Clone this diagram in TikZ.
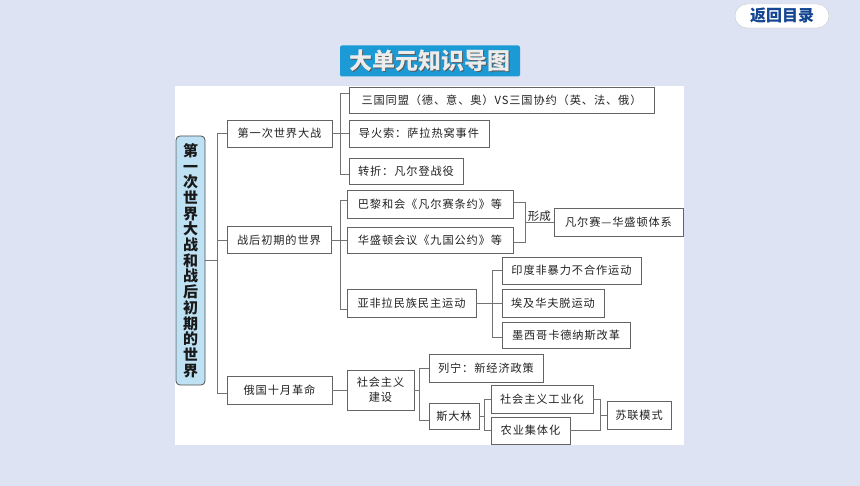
\documentclass[tikz,border=0pt]{standalone}
\usepackage{fontspec}
\newfontfamily\cjk[LetterSpace=8]{Noto Sans CJK SC}
\newfontfamily\cjkplain{Noto Sans CJK SC}
\usetikzlibrary{calc}
\definecolor{bgc}{RGB}{221,227,243}
\definecolor{titc}{RGB}{27,154,214}
\definecolor{lbfill}{RGB}{190,226,244}
\definecolor{boxc}{RGB}{100,100,100}
\definecolor{linec}{RGB}{115,115,115}
\definecolor{txtc}{RGB}{34,34,34}
\definecolor{btnc}{RGB}{20,70,145}
\begin{document}
\begin{tikzpicture}[x=1pt,y=-1pt,
  bx/.style={draw=boxc, line width=0.8pt, fill=white, inner sep=0pt,
    minimum height=27pt, font=\cjk\fontsize{11.2}{12}\selectfont, text=txtc},
  ln/.style={draw=linec, line width=0.8pt}]
\useasboundingbox (0,0) rectangle (860,486);
\fill[bgc] (0,0) rectangle (860,486);
% button
\node[draw=gray!45, fill=white, rounded corners=12pt, minimum width=94pt,
  minimum height=24pt, inner sep=0pt, text=btnc,
  font=\cjkplain\bfseries\fontsize{16}{16}\selectfont] (btn) at (782,16) {返回目录};
% title
\node[fill=titc, rounded corners=2pt, minimum width=180pt, minimum height=31pt] (title) at (430,61) {};
\node[text=black!65, font=\cjkplain\bfseries\fontsize{23}{23}\selectfont] (titsh) at (431.2,62.2) {大单元知识导图};
\node[text=white!85!gray, font=\cjkplain\bfseries\fontsize{23}{23}\selectfont] (tittx) at (title.center) {大单元知识导图};
% panel
\fill[white] (175,86) rectangle (684,445);
% left box
\node[draw=boxc!80!black, line width=0.8pt, fill=lbfill, rounded corners=4pt, minimum width=29pt,
  minimum height=249pt, inner sep=0pt, align=center, text=black!90,
  font=\cjkplain\bfseries\fontsize{15}{15.7}\selectfont] (LB) at (190.5,260.5)
  {第\\一\\次\\世\\界\\大\\战\\和\\战\\后\\初\\期\\的\\世\\界};
% level 1
\node[bx, minimum width=105pt] (L1a) at (279.5,133.5) {第一次世界大战};
\node[bx, minimum width=104pt] (L1b) at (279,240) {战后初期的世界};
\node[bx, minimum width=105pt, minimum height=28pt] (L1c) at (279.5,390) {俄国十月革命};
% group A
\node[bx, minimum width=305pt, minimum height=26pt] (A1) at (501.5,100) {三国同盟（德、意、奥）VS三国协约（英、法、俄）};
\node[bx, minimum width=140pt] (A2) at (419,133.5) {导火索：萨拉热窝事件};
\node[bx, minimum width=114pt, minimum height=26pt] (A3) at (406,171) {转折：凡尔登战役};
% group B
\node[bx, minimum width=166pt, minimum height=28pt] (B1) at (430,204) {巴黎和会《凡尔赛条约》等};
\node[bx, minimum width=166pt, minimum height=26pt] (B2) at (430,240) {华盛顿会议《九国公约》等};
\node[bx, minimum width=129pt, minimum height=28pt] (B3) at (618.5,222) {凡尔赛—华盛顿体系};
\node[bx, minimum width=129pt, minimum height=28pt] (B4) at (411.5,303) {亚非拉民族民主运动};
% group C
\node[bx, minimum width=139pt] (C1) at (571.5,270.5) {印度非暴力不合作运动};
\node[bx, minimum width=102pt, minimum height=28pt] (C2) at (553,303) {埃及华夫脱运动};
\node[bx, minimum width=128pt, minimum height=26pt] (C3) at (566,335) {墨西哥卡德纳斯改革};
% group D
\node[bx, minimum width=67pt, minimum height=40pt, align=center,
  font=\cjk\fontsize{11.2}{15}\selectfont] (D1) at (380.5,390) {社会主义\\建设};
\node[bx, minimum width=114pt, minimum height=28pt] (D2) at (486,368) {列宁：新经济政策};
\node[bx, minimum width=50pt, minimum height=26pt] (D3) at (454,416) {斯大林};
\node[bx, minimum width=102pt, minimum height=28pt] (D4) at (542,399) {社会主义工业化};
\node[bx, minimum width=79pt, minimum height=27pt] (D5) at (530.5,430.5) {农业集体化};
\node[bx, minimum width=64pt, minimum height=28pt] (D6) at (639,415) {苏联模式};
% trunk
\coordinate (t) at (217,133.5);
\draw[ln] (LB.east) -- (LB.east -| t);
\draw[ln] (L1a.west) -- (t) |- ($(L1c.west)+(0,3)$);
\draw[ln] (L1b.west) -- (L1b.west -| t);
% A connectors
\draw[ln] ($(A1.west)+(0,-7)$) -- ++(-8,0) |- ($(A3.west)+(0,3)$);
\draw[ln] (L1a.east) -- (A2.west);
% B connectors
\draw[ln] ($(B1.west)+(0,-4)$) -- ++(-6,0) |- ($(B4.west)+(0,6)$);
\draw[ln] (L1b.east) -- (B2.west);
\draw[ln] ($(B1.east)+(0,-2)$) -- ++(12,0) |- ($(B2.east)+(0,2)$);
\coordinate (bm) at (525,222);
\draw[ln] (bm) -- (B3.west) node[midway, above=-1pt, inner sep=1pt, text=txtc,
  font=\cjkplain\fontsize{11.5}{12}\selectfont] (xc) {形成};
% C connectors
\draw[ln] (C1.west) -- ++(-9,0) |- ($(C3.west)+(0,2)$);
\draw[ln] (B4.east) -- (C2.west);
% D connectors
\draw[ln] (L1c.east) -- (D1.west);
\draw[ln] (D1.east) -- ++(6,0);
\draw[ln] (D2.west) -- ++(-9,0) |- ($(D3.west)+(0,4)$);
\draw[ln] (D3.east) -- ++(6,0);
\draw[ln] (D4.west) -- ++(-6,0) |- (D5.west);
\draw[ln] (D4.east) -- ++(7,0) |- (D5.east);
\draw[ln] (D6.west) -- ++(-7,0);
\end{tikzpicture}
\end{document}
